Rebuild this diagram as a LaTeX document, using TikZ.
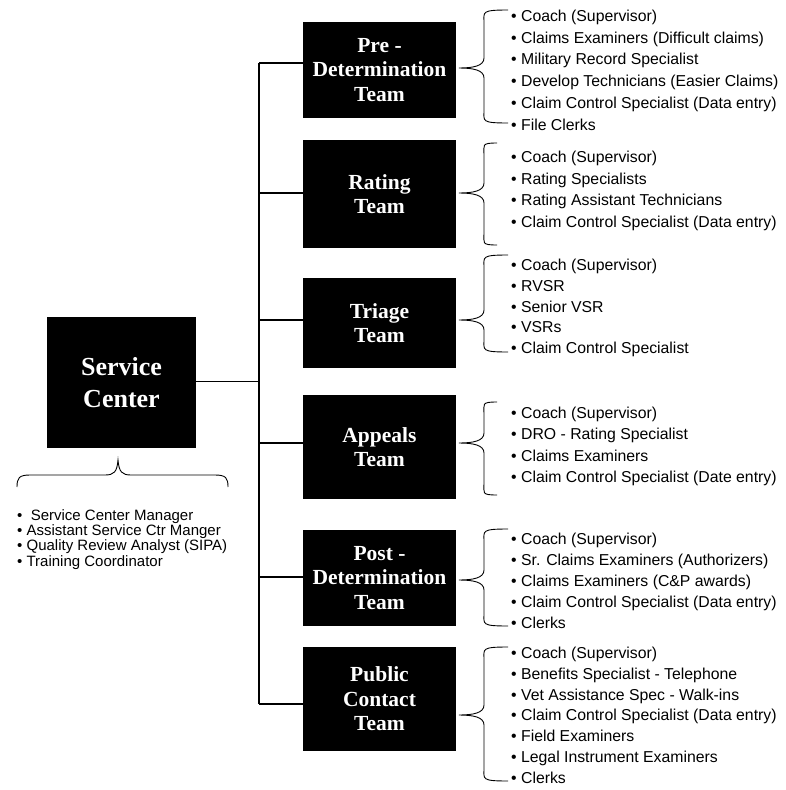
\documentclass[tikz,border=0pt]{standalone}
\usepackage{fontspec}
\setmainfont{Liberation Serif}
\setsansfont{Liberation Sans}
\usetikzlibrary{calc}
\newcommand\mylist[5]{% name, x, y of first line, spacing, items
  \foreach \t [count=\i from 0] in {#5} {
    \node[listitem] (#1-\i) at (#2, #3+\i*#4) {\t};
  }}
\newcommand\mybrace[5]{% xtip, ytip, ytop, ybot, xend
  \draw[bracepath] (#5,#3) .. controls (#1+22,#3) and (#1+25,#3+2) .. (#1+25,#3+12)
    -- (#1+25,#2-10) .. controls (#1+25,#2-2) and (#1+14,#2) .. (#1,#2)
    .. controls (#1+14,#2) and (#1+25,#2+2) .. (#1+25,#2+10)
    -- (#1+25,#4-12) .. controls (#1+25,#4-2) and (#1+22,#4) .. (#5,#4);}
\begin{document}
\begin{tikzpicture}[x=1pt,y=-1pt,
  teambox/.style={fill=black, text=white, font=\bfseries\fontsize{21.5}{24.5}\selectfont,
    align=center, inner sep=0pt, minimum width=153pt},
  listitem/.style={font=\sffamily\fontsize{15.8}{16}\selectfont, anchor=west, inner sep=0pt,
    text height=11pt, text depth=0pt},
  leftitem/.style={listitem, font=\sffamily\fontsize{15}{16}\selectfont},
  conn/.style={line width=1.5pt},
  bracepath/.style={line width=0.9pt}]
\useasboundingbox (0,0) rectangle (785,790);

% service center
\node[teambox, minimum width=149pt, minimum height=131pt, font=\bfseries\fontsize{26}{32}\selectfont]
  (sc) at (121.5,382.5) {Service\\Center};

% team boxes
\node[teambox, minimum height=96pt]  (pre) at (379.5,70)  {Pre -\\Determination\\Team};
\node[teambox, minimum height=108pt] (rat) at (379.5,194) {Rating\\Team};
\node[teambox, minimum height=90pt]  (tri) at (379.5,323) {Triage\\Team};
\node[teambox, minimum height=104pt] (app) at (379.5,447) {Appeals\\Team};
\node[teambox, minimum height=96pt]  (pst) at (379.5,578) {Post -\\Determination\\Team};
\node[teambox, minimum height=104pt] (pub) at (379.5,699) {Public\\Contact\\Team};

% connectors
\coordinate (trunk) at (259,0);
\coordinate (preC) at ($(pre.west)+(0,-7)$);
\coordinate (ratC) at ($(rat.west)+(0,-1)$);
\coordinate (triC) at ($(tri.west)+(0,-3)$);
\coordinate (appC) at ($(app.west)+(0,-4)$);
\coordinate (pstC) at ($(pst.west)+(0,-1)$);
\coordinate (pubC) at ($(pub.west)+(0,5)$);
\foreach \b in {preC,ratC,triC,appC,pstC,pubC}
  \draw[conn] (\b) -- (\b -| trunk);
\draw[conn] (preC -| trunk) -- (pubC -| trunk);
\draw[conn] ($(sc.east)+(0,-1)$) coordinate (scC) -- (scC -| trunk);

% braces
\mybrace{459}{68}{10}{123}{508}
\mybrace{459}{193}{143}{245}{497}
\mybrace{459}{320}{255}{352}{508}
\mybrace{459}{443}{402}{495}{497}
\mybrace{459}{580}{529}{626}{508}
\mybrace{459}{715}{647}{781}{508}
% service center brace (pointing up)
\draw[bracepath] (17,487) .. controls (17,478) and (19,475) .. (30,475)
  -- (105,475) .. controls (114,475) and (117,472) .. (118,460)
  .. controls (119,472) and (122,475) .. (131,475)
  -- (215,475) .. controls (226,475) and (228,478) .. (228,487);

% lists
\mylist{pl}{511}{16}{21.7}{\textbullet\ Coach (Supervisor),\textbullet\ Claims Examiners (Difficult claims),\textbullet\ Military Record Specialist,\textbullet\ Develop Technicians (Easier Claims),\textbullet\ Claim Control Specialist (Data entry),\textbullet\ File Clerks}
\mylist{rl}{511}{157}{21.7}{\textbullet\ Coach (Supervisor),\textbullet\ Rating Specialists,\textbullet\ Rating Assistant Technicians,\textbullet\ Claim Control Specialist (Data entry)}
\mylist{tl}{511}{265}{20.8}{\textbullet\ Coach (Supervisor),\textbullet\ RVSR,\textbullet\ Senior VSR,\textbullet\ VSRs,\textbullet\ Claim Control Specialist}
\mylist{al}{511}{413}{21.3}{\textbullet\ Coach (Supervisor),\textbullet\ DRO - Rating Specialist,\textbullet\ Claims Examiners,\textbullet\ Claim Control Specialist (Date entry)}
\mylist{ql}{511}{539}{21}{\textbullet\ Coach (Supervisor),\textbullet\ Sr. Claims Examiners (Authorizers),\textbullet\ Claims Examiners (C\&P awards),\textbullet\ Claim Control Specialist (Data entry),\textbullet\ Clerks}
\mylist{ul}{511}{653}{20.8}{\textbullet\ Coach (Supervisor),\textbullet\ Benefits Specialist - Telephone,\textbullet\ Vet Assistance Spec - Walk-ins,\textbullet\ Claim Control Specialist (Data entry),\textbullet\ Field Examiners,\textbullet\ Legal Instrument Examiners,\textbullet\ Clerks}
\foreach \t [count=\i from 0] in {\textbullet\ \ Service Center Manager,\textbullet\ Assistant Service Ctr Manger,\textbullet\ Quality Review Analyst (SIPA),\textbullet\ Training Coordinator}
  \node[leftitem] (sl-\i) at (17, 515+\i*15.2) {\t};
\end{tikzpicture}
\end{document}
